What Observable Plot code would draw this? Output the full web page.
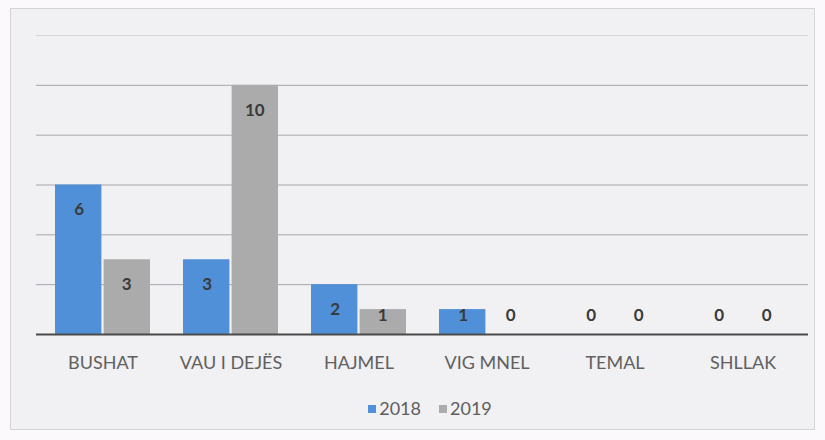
<!DOCTYPE html>
<html><head><meta charset="utf-8">
<script src="https://cdn.jsdelivr.net/npm/d3@7"></script>
<script src="https://cdn.jsdelivr.net/npm/@observablehq/plot@0.6"></script>
<style>
html,body{margin:0;padding:0;background:#fbf9fb;}
#wrap{position:relative;width:825px;height:440px;overflow:hidden;font-family:Lato,"Liberation Sans",sans-serif;}
#panel{position:absolute;left:10px;top:8px;width:803px;height:420px;background:#f1f0f3;border:1px solid #d4d3d6;}
#chart{position:absolute;left:0;top:0;}
#legend{position:absolute;left:0;top:397px;width:860px;text-align:center;font-size:18px;color:#5e5e5e;}
#legend span.sw{display:inline-block;width:8px;height:8px;margin-right:3px;vertical-align:2px;}
#legend span.item{margin:0 9px;}
</style></head>
<body><div id="wrap"><div id="panel"></div><div id="chart"></div><div id="legend"></div></div>
<script>
const categories = ["BUSHAT", "VAU I DEJËS", "HAJMEL", "VIG MNEL", "TEMAL", "SHLLAK"];
const years = ["2018", "2019"];
const values2018 = [6, 3, 2, 1, 0, 0];
const values2019 = [3, 10, 1, 0, 0, 0];
const gridTicks = [2, 4, 6, 8, 10, 12];
const colors = ["#5090d8", "#ababab"];

const data = [];
categories.forEach((c, i) => {
  data.push({cat: c, year: years[0], v: values2018[i]});
  data.push({cat: c, year: years[1], v: values2019[i]});
});

const W = 825, H = 380;
const mL = 36, mR = 17, mT = 35, mB = 46;
const pi = 0.26, po = 0.13;
const step = (W - mL - mR) / (categories.length - pi + 2 * po);
const band = step * (1 - pi);
const half = band / 2;

const barMark = (yr, idx) => Plot.barY(data.filter(d => d.year === yr), {
  x: "cat", y: "v", fill: colors[idx],
  insetLeft: idx === 0 ? 0 : half + 1,
  insetRight: idx === 0 ? half + 1 : 0
});
const labelX = idx => idx === 0 ? -half / 2 : half / 2;
const labelMarks = (yr, idx) => [
  Plot.text(data.filter(d => d.year === yr && d.v >= 2), {
    x: "cat", y: "v", text: d => String(d.v), dx: labelX(idx), dy: 25,
    fill: "#3a3a3a", fontSize: 17, fontWeight: "bold"
  }),
  Plot.text(data.filter(d => d.year === yr && d.v < 2), {
    x: "cat", y: 0, text: d => String(d.v), dx: labelX(idx), dy: -19,
    fill: "#3a3a3a", fontSize: 17, fontWeight: "bold"
  })
];

const plot = Plot.plot({
  width: W, height: H,
  marginLeft: mL, marginRight: mR, marginTop: mT, marginBottom: mB,
  style: {background: "transparent", fontFamily: "Lato, 'Liberation Sans', sans-serif"},
  x: {domain: categories, paddingInner: pi, paddingOuter: po, label: null, tickSize: 0, tickPadding: 22},
  y: {domain: [0, 12], axis: null},
  marks: [
    Plot.ruleY(gridTicks, {stroke: d => d === 12 ? "#d6d4d8" : "#a8a7aa", strokeWidth: 1}),
    barMark(years[0], 0),
    barMark(years[1], 1),
    Plot.ruleY([0], {stroke: "#4a4a4a", strokeWidth: 2}),
    ...labelMarks(years[0], 0),
    ...labelMarks(years[1], 1)
  ]
});
plot.querySelectorAll('g[aria-label="x-axis tick label"]').forEach(el => {
  el.setAttribute("font-size", "18");
  el.setAttribute("fill", "#606060");
  el.style.fill = "#606060";
});
document.getElementById("chart").appendChild(plot);

const lg = document.getElementById("legend");
years.forEach((y, i) => {
  const it = document.createElement("span");
  it.className = "item";
  const sw = document.createElement("span");
  sw.className = "sw";
  sw.style.background = colors[i];
  it.appendChild(sw);
  it.appendChild(document.createTextNode(y));
  lg.appendChild(it);
});
</script></body></html>
